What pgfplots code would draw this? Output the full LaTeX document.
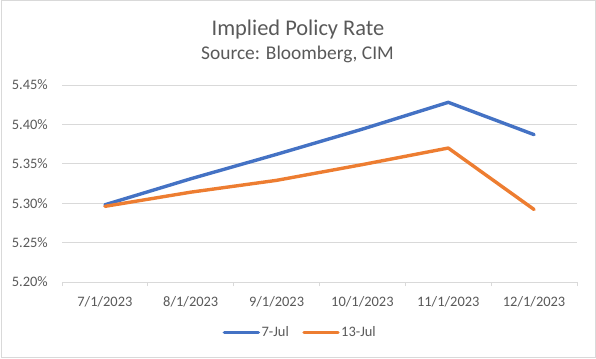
\documentclass[border=0pt]{standalone}
\usepackage{fontspec}
\setmainfont{Carlito}
\usepackage{pgfplots}
\pgfplotsset{compat=1.18}
\definecolor{cblue}{HTML}{4472C4}
\definecolor{corange}{HTML}{ED7D31}
\definecolor{ctext}{HTML}{595959}
\definecolor{cgrid}{HTML}{D9D9D9}
\begin{document}
\begin{tikzpicture}[x=1bp,y=1bp]
\draw[cgrid, line width=1bp] (1,1) rectangle (595,357);
\node[anchor=base, text=ctext, inner sep=0pt, font=\fontsize{22.5}{27}\selectfont] at (298,323) {Implied Policy Rate};
\node[anchor=base, text=ctext, inner sep=0pt, font=\fontsize{19.5}{23}\selectfont] at (297.5,298.7) {Source: Bloomberg, CIM};
\begin{axis}[
  at={(62bp,76bp)}, anchor=south west,
  scale only axis, width=515bp, height=197bp,
  xmin=-0.5, xmax=5.5, ymin=5.20, ymax=5.45,
  xtick={0,1,2,3,4,5},
  xticklabels={7/1/2023,8/1/2023,9/1/2023,10/1/2023,11/1/2023,12/1/2023},
  ytick={5.20,5.25,5.30,5.35,5.40,5.45},
  yticklabel={\pgfmathprintnumber[fixed,fixed zerofill,precision=2]{\tick}\%},
  minor xtick={-0.5,0.5,1.5,2.5,3.5,4.5,5.5},
  xtick pos=bottom, ytick pos=left,
  tick align=outside,
  major tick length=0pt,
  minor tick length=4bp,
  minor x tick style={cgrid, line width=0.8bp},
  axis line style={draw=none},
  ymajorgrids, grid style={cgrid, line width=0.8bp},
  ticklabel style={font=\fontsize{14.5}{17}\selectfont, text=ctext},
  /pgf/number format/assume math mode=true,
  yticklabel style={anchor=east, inner sep=0pt, xshift=-14bp},
  xticklabel style={anchor=base, inner sep=0pt, yshift=-24.5bp},
  legend style={at={(0.4621,-0.2574)}, anchor=center, draw=none, fill=none,
    legend columns=2, font=\fontsize{14.5}{17}\selectfont, text=ctext,
    inner sep=0pt, nodes={inner sep=1.5bp},
    /tikz/every even column/.append style={column sep=12bp}},
  legend image code/.code={\draw[#1] (0bp,0bp) -- (34bp,0bp);},
  clip=false,
]
\addplot[cblue, line width=3.4bp, line join=round, line cap=round] coordinates {
  (0,5.298) (1,5.331) (2,5.362) (3,5.394) (4,5.428) (5,5.387)};
\addlegendentry{7-Jul}
\addplot[corange, line width=3.4bp, line join=round, line cap=round] coordinates {
  (0,5.296) (1,5.314) (2,5.329) (3,5.349) (4,5.370) (5,5.292)};
\addlegendentry{13-Jul}
\end{axis}
\pgfresetboundingbox
\path[use as bounding box] (0,0) rectangle (596,358);
\end{tikzpicture}
\end{document}
